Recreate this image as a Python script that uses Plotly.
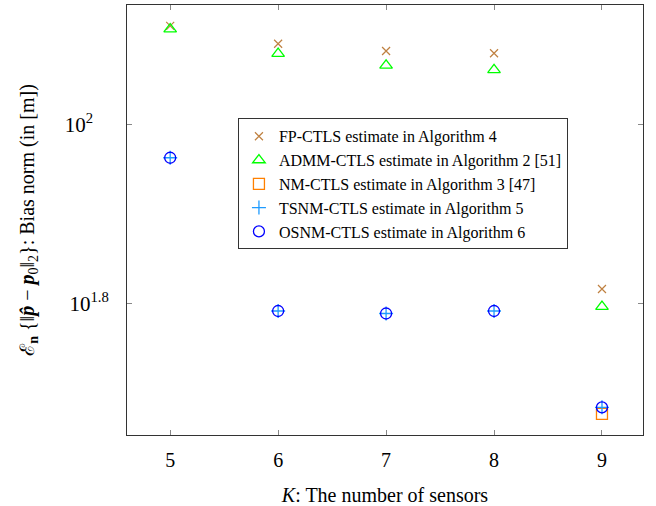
import plotly.graph_objects as go

K = [5, 6, 7, 8, 9]
fp_ctls = [129.0, 123.2, 120.9, 120.2, 65.5]
admm_ctls = [127.9, 120.1, 116.5, 115.2, 62.6]
nm_k = [9]
nm_ctls = [47.5]
tsnm_ctls = [91.85, 61.9, 61.5, 61.9, 48.3]
osnm_ctls = [91.85, 61.9, 61.5, 61.9, 48.3]

names = [
    "FP-CTLS estimate in Algorithm 4",
    "ADMM-CTLS estimate in Algorithm 2 [51]",
    "NM-CTLS estimate in Algorithm 3 [47]",
    "TSNM-CTLS estimate in Algorithm 5",
    "OSNM-CTLS estimate in Algorithm 6",
]
ytick_vals = [10 ** 1.8, 10 ** 2]
ytick_text = ["10<sup>1.8</sup>", "10<sup>2</sup>\u00a0\u00a0\u00a0"]

FONT = "Liberation Serif"

fig = go.Figure()
fig.add_trace(go.Scatter(x=K, y=fp_ctls, mode="markers", name=names[0],
                         marker=dict(symbol="x-thin", size=8, color="#bf8040",
                                     line=dict(width=1.2, color="#bf8040"))))
fig.add_trace(go.Scatter(x=K, y=admm_ctls, mode="markers", name=names[1],
                         marker=dict(symbol="triangle-up-open", size=11, color="#00ff00",
                                     line=dict(width=1.3))))
fig.add_trace(go.Scatter(x=nm_k, y=nm_ctls, mode="markers", name=names[2],
                         marker=dict(symbol="square-open", size=11, color="#ff8000",
                                     line=dict(width=1.3))))
fig.add_trace(go.Scatter(x=K, y=tsnm_ctls, mode="markers", name=names[3],
                         marker=dict(symbol="cross-thin", size=10, color="#1e9bff",
                                     line=dict(width=1.3, color="#1e9bff"))))
fig.add_trace(go.Scatter(x=K, y=osnm_ctls, mode="markers", name=names[4],
                         marker=dict(symbol="circle-open", size=11, color="#0000ff",
                                     line=dict(width=1.3))))

fig.update_layout(
    width=656, height=506,
    margin=dict(l=127, r=13, t=5, b=71),
    paper_bgcolor="white", plot_bgcolor="white",
    font=dict(family=FONT, color="black", size=18),
    showlegend=True,
    legend=dict(x=0.215, y=0.7365, xanchor="left", yanchor="top",
                bgcolor="white", bordercolor="#333333", borderwidth=1,
                font=dict(family=FONT, size=16), itemwidth=30,
                tracegroupgap=0),
    xaxis=dict(range=[4.6, 9.38], tickvals=K, ticktext=[str(k) for k in K],
               showgrid=False, zeroline=False, showline=True, linecolor="#333333",
               linewidth=1, mirror="allticks", ticks="inside", ticklen=5,
               tickcolor="#888888", automargin=False, ticklabelstandoff=7,
               tickfont=dict(size=20, family=FONT),
               title=dict(text="<i>K</i>: The number of sensors",
                          font=dict(size=20, family=FONT), standoff=22)),
    yaxis=dict(type="log", range=[1.653, 2.1339], tickvals=ytick_vals, ticktext=ytick_text,
               showgrid=False, zeroline=False, showline=True, linecolor="#333333",
               linewidth=1, mirror="allticks", ticks="inside", ticklen=5,
               tickcolor="#888888", automargin=False, ticklabelstandoff=13,
               tickfont=dict(size=21, family=FONT),
               title=dict(text="ℰ<sub><b>n</b></sub> {‖<b><i>p̂</i></b> − <b><i>p</i></b><sub>0</sub>‖<sub>2</sub>}: Bias norm (in [m])",
                          font=dict(size=20, family=FONT), standoff=24)),
)

fig.write_html("out.html", post_script="document.body.style.margin='0px';",
               config={"displayModeBar": False})
